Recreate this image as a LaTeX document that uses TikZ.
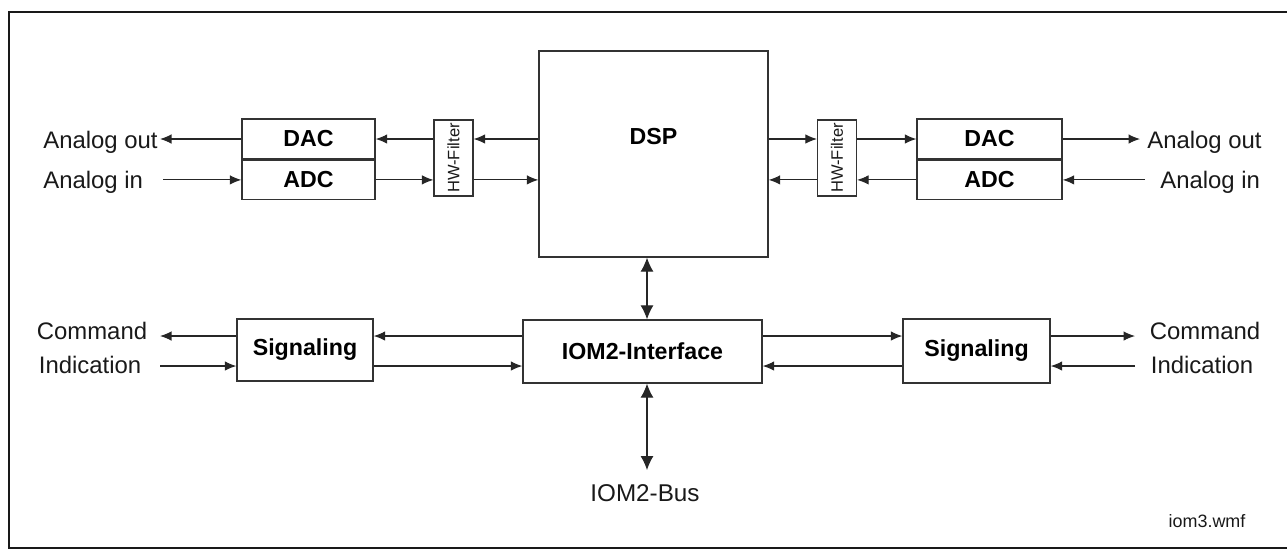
\documentclass[tikz,border=0pt]{standalone}
\usepackage{fontspec}
\setmainfont{Liberation Sans}
\usetikzlibrary{arrows.meta, positioning, calc}

\begin{document}
\begin{tikzpicture}[x=0.02cm, y=0.02cm,
    box/.style={rectangle, draw=black!80, line width=0.8pt, fill=white, inner sep=0pt, font=\fontsize{13.2}{15}\selectfont\bfseries},
    filter/.style={rectangle, draw=black!80, line width=0.7pt, minimum width=0.78cm, minimum height=1.52cm, inner sep=0pt},
    port/.style={font=\fontsize{13.6}{15}\selectfont, inner sep=0pt, text=black!90},
    small/.style={font=\fontsize{9.4}{11}\selectfont, inner sep=0pt, text=black!90},
    arrow/.style={-{Latex[length=2.3mm, width=1.9mm]}, line width=0.6pt, draw=black!85},
    bus/.style={{Latex[length=2.8mm, width=2.6mm]}-{Latex[length=2.8mm, width=2.6mm]}, line width=0.6pt, draw=black!85}
]
    \useasboundingbox (0,0) rectangle (1287,-556);

    % Frame
    \draw[line width=1.1pt, black!90] (1287,-12) -- (9,-12) -- (9,-548) -- (1287,-548);

    % DSP core
    \node[box, minimum width=4.58cm, minimum height=4.12cm] (dsp) at (653.5,-154) {};
    \node[box, draw=none, fill=none, yshift=-1.72cm] (dsptitle) at (dsp.north) {DSP};

    % --- Left codec ---
    \node[box, minimum width=2.66cm, minimum height=0.8cm] (dacL) at (308.5,-139) {DAC};
    \node[box, minimum width=2.66cm, minimum height=0.78cm, below=0pt of dacL] (adcL) {ADC};
    \node[filter] (filtL) at (453.5,-158) {};
    \node[small, rotate=90] (filtLtxt) at (filtL) {HW-Filter};

    % --- Right codec ---
    \node[box, minimum width=2.9cm, minimum height=0.8cm] (dacR) at (989.5,-139) {DAC};
    \node[box, minimum width=2.9cm, minimum height=0.78cm, below=0pt of dacR] (adcR) {ADC};
    \node[filter] (filtR) at (837,-158) {};
    \node[small, rotate=90] (filtRtxt) at (filtR) {HW-Filter};

    % --- Lower row ---
    \node[box, minimum width=4.78cm, minimum height=1.26cm] (iom) at (642.5,-351.5) {IOM2-Interface};
    \node[box, minimum width=2.72cm, minimum height=1.24cm] (sigL) at (305,-350) {Signaling};
    \node[box, minimum width=2.94cm, minimum height=1.28cm] (sigR) at (976.5,-351) {Signaling};

    % Free ends
    \coordinate (aoutL) at (160,-139);
    \coordinate (ainL) at (163,-179);
    \coordinate (aoutR) at (1140,-139);
    \coordinate (ainR) at (1145,-179);
    \coordinate (cmdL) at (160,-336);
    \coordinate (indL) at (160,-366);
    \coordinate (cmdR) at (1135,-336);
    \coordinate (indR) at (1135,-366);
    \coordinate (bus) at (647,-470);

    % Port labels
    \node[port, anchor=east] (aoutLtxt) at (158,-142) {Analog out};
    \node[port, anchor=west] (ainLtxt) at (43,-182) {Analog in};
    \node[port] (cmdLtxt) at (92,-331) {Command};
    \node[port] (indLtxt) at (90,-365) {Indication};
    \node[port, anchor=west] (aoutRtxt) at (1147,-142) {Analog out};
    \node[port, anchor=west] (ainRtxt) at (1160,-182) {Analog in};
    \node[port] (cmdRtxt) at (1205,-331) {Command};
    \node[port] (indRtxt) at (1202,-365) {Indication};
    \node[port, font=\fontsize{13.8}{15}\selectfont] (bustxt) at (645,-493) {IOM2-Bus};
    \node[port, font=\fontsize{10.2}{12}\selectfont] (fname) at (1207,-521) {iom3.wmf};

    % --- Left analog path ---
    \draw[arrow] (dacL.west) -- (aoutL |- dacL);
    \draw[arrow] (ainL |- adcL) -- (adcL.west);
    \draw[arrow] (dsp.west |- dacL) -- (filtL.east |- dacL);
    \draw[arrow] (filtL.west |- dacL) -- (dacL.east);
    \draw[arrow] (adcL.east) -- (filtL.west |- adcL);
    \draw[arrow] (filtL.east |- adcL) -- (dsp.west |- adcL);

    % --- Right analog path ---
    \draw[arrow] (dsp.east |- dacR) -- (filtR.west |- dacR);
    \draw[arrow] (filtR.east |- dacR) -- (dacR.west);
    \draw[arrow] (dacR.east) -- (aoutR |- dacR);
    \draw[arrow] (ainR |- adcR) -- (adcR.east);
    \draw[arrow] (adcR.west) -- (filtR.east |- adcR);
    \draw[arrow] (filtR.west |- adcR) -- (dsp.east |- adcR);

    % --- Signaling paths ---
    \draw[arrow] (sigL.west |- cmdL) -- (cmdL);
    \draw[arrow] (indL) -- (sigL.west |- indL);
    \draw[arrow] (iom.west |- cmdL) -- (sigL.east |- cmdL);
    \draw[arrow] (sigL.east |- indL) -- (iom.west |- indL);
    \draw[arrow] (iom.east |- cmdR) -- (sigR.west |- cmdR);
    \draw[arrow] (sigR.west |- indR) -- (iom.east |- indR);
    \draw[arrow] (sigR.east |- cmdR) -- (cmdR);
    \draw[arrow] (indR) -- (sigR.east |- indR);

    % --- Buses ---
    \draw[bus] (dsp.south -| bus) -- (iom.north -| bus);
    \draw[bus] (iom.south -| bus) -- (bus);

\end{tikzpicture}
\end{document}
